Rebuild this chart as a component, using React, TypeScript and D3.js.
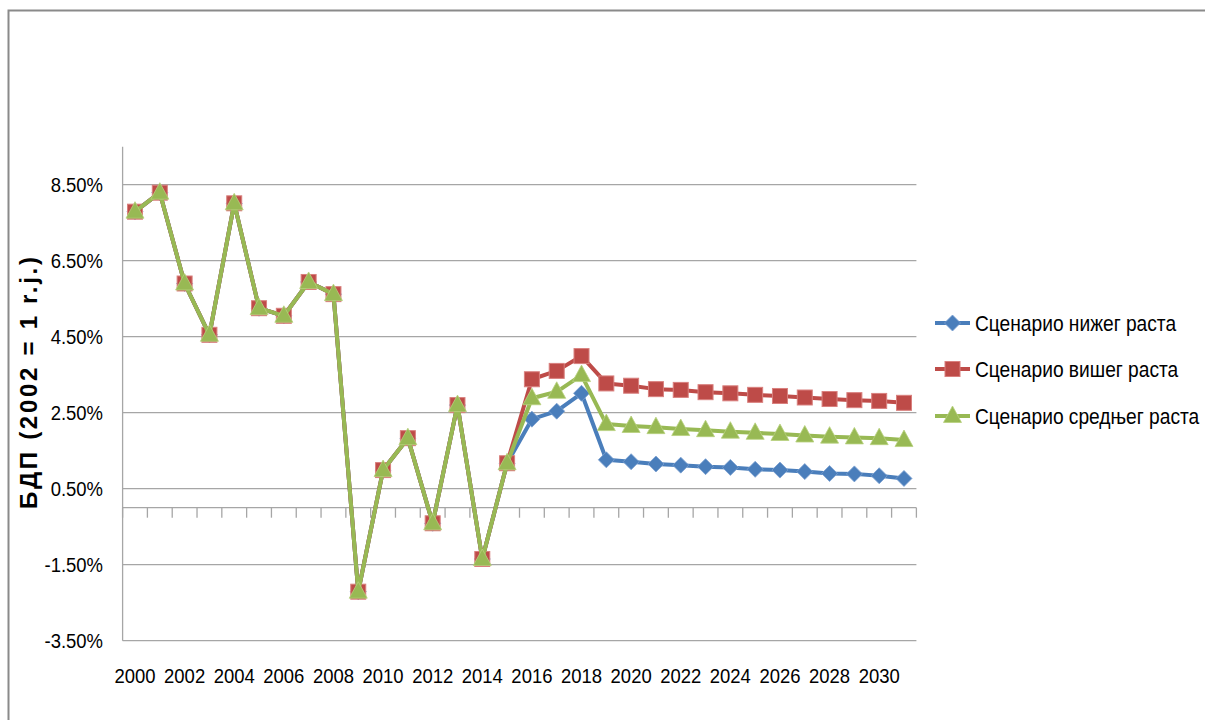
import * as d3 from 'd3';
import type { ReactNode } from 'react';

const years = d3.range(2000, 2032).map(String);

// shared history 2000-2015
const history = [7.79, 8.29, 5.9, 4.55, 8.01, 5.25, 5.05, 5.94, 5.62, -2.21, 0.99, 1.83, -0.41, 2.7, -1.35, 1.17];

const lowGrowth = [2.33, 2.54, 3.01, 1.26, 1.21, 1.15, 1.12, 1.08, 1.06, 1.01, 0.99, 0.95, 0.9, 0.89, 0.84, 0.77];
const highGrowth = [3.38, 3.6, 3.99, 3.27, 3.21, 3.12, 3.1, 3.04, 3.01, 2.97, 2.94, 2.9, 2.86, 2.83, 2.81, 2.76];
const midGrowth = [2.88, 3.05, 3.49, 2.2, 2.15, 2.12, 2.07, 2.04, 2.0, 1.97, 1.94, 1.9, 1.87, 1.85, 1.83, 1.78];

const yTicks = [-3.5, -1.5, 0.5, 2.5, 4.5, 6.5, 8.5];

const seriesNames = ['Сценарио нижег раста', 'Сценарио вишег раста', 'Сценарио средњег раста'];
const seriesColors = ['#4A7EBB', '#BE4B48', '#98B954'];

const FONT = '"Liberation Sans", Arial, sans-serif';

const x = d3.scaleBand<string>().domain(years).range([122.6, 916.4]).padding(0);
const y = d3.scaleLinear().domain([-3.5, 9.5]).range([640.7, 146.7]);
const cx = (yr: string) => (x(yr) as number) + x.bandwidth() / 2;

const pct = d3.formatLocale({ decimal: '.', thousands: ',', grouping: [3], currency: ['', ''], minus: '-' }).format('.2f');

const series = [lowGrowth, highGrowth, midGrowth].map((tail, i) => ({
  name: seriesNames[i],
  color: seriesColors[i],
  marker: ['diamond', 'square', 'triangle'][i],
  values: history.concat(tail).map((v, j) => ({ year: years[j], value: v }))
}));

const line = d3
  .line<{ year: string; value: number }>()
  .x(d => cx(d.year))
  .y(d => y(d.value));

// narrow-ish text (Calibri look) by squeezing a regular sans horizontally
function NText({ x: tx, y: ty, anchor = 'start', size, children }: { x: number; y: number; anchor?: string; size: number; children: ReactNode }) {
  return (
    <text
      transform={`translate(${tx},${ty}) scale(0.88,1)`}
      textAnchor={anchor}
      fontFamily={FONT}
      fontSize={size}
      fill="#000"
    >
      {children}
    </text>
  );
}

function Marker({ kind, color, px, py }: { kind: string; color: string; px: number; py: number }) {
  if (kind === 'square') {
    return <rect x={px - 7.5} y={py - 7.5} width={15} height={15} fill={color} stroke="#D9807E" strokeWidth={1} />;
  }
  if (kind === 'diamond') {
    const s = 8;
    return (
      <path
        d={`M${px},${py - s}L${px + s},${py}L${px},${py + s}L${px - s},${py}Z`}
        fill={color}
        stroke="#7BA0D0"
        strokeWidth={0.8}
      />
    );
  }
  return (
    <path
      d={`M${px},${py - 10}L${px + 9},${py + 6.5}L${px - 9},${py + 6.5}Z`}
      fill={color}
      stroke="#B8D07E"
      strokeWidth={0.8}
    />
  );
}

export default function App() {
  const [x0, x1] = x.range();
  const zeroY = y(0);
  const boundaries = d3.range(years.length + 1).map(k => x0 + k * x.bandwidth());
  const legendY = [323, 369, 416];

  return (
    <svg width={1205} height={720} style={{ position: 'absolute', left: 0, top: 0, background: '#fff' }}>
      {/* outer frame */}
      <path d="M8.5,720V10.5H1205" fill="none" stroke="#8A8A8A" strokeWidth={2} />

      {/* gridlines */}
      {yTicks.map(t => (
        <line key={t} x1={x0} x2={x1} y1={y(t)} y2={y(t)} stroke="#A6A6A6" strokeWidth={1.3} />
      ))}
      <line x1={x0} x2={x0} y1={y(9.5)} y2={y(-3.5)} stroke="#A6A6A6" strokeWidth={1.3} />

      {/* category axis at zero */}
      <line x1={x0} x2={x1} y1={zeroY} y2={zeroY} stroke="#A6A6A6" strokeWidth={1.3} />
      {boundaries.map((bx, k) => (
        <line key={k} x1={bx} x2={bx} y1={zeroY} y2={zeroY + 10} stroke="#A6A6A6" strokeWidth={1.3} />
      ))}

      {/* y tick labels */}
      {yTicks.map(t => (
        <NText key={t} x={103} y={y(t) + 7.5} anchor="end" size={21}>
          {pct(t) + '%'}
        </NText>
      ))}

      {/* x labels */}
      {years.map((yr, i) =>
        i % 2 === 0 ? (
          <NText key={yr} x={cx(yr)} y={683} anchor="middle" size={21}>
            {yr}
          </NText>
        ) : null
      )}

      {/* y title */}
      <text
        transform={`translate(37,383) rotate(-90)`}
        textAnchor="middle"
        fontFamily={FONT}
        fontSize={24}
        fontWeight="bold"
        textLength={252}
        lengthAdjust="spacing"
        fill="#000"
      >
        БДП (2002 = 1 r.j.)
      </text>

      {/* series */}
      {series.map(s => (
        <g key={s.name}>
          <path d={line(s.values) || ''} fill="none" stroke={s.color} strokeWidth={4} strokeLinejoin="round" />
          {s.values.map(d => (
            <Marker key={d.year} kind={s.marker} color={s.color} px={cx(d.year)} py={y(d.value)} />
          ))}
        </g>
      ))}

      {/* legend */}
      {series.map((s, i) => (
        <g key={s.name}>
          <line x1={935} x2={970} y1={legendY[i]} y2={legendY[i]} stroke={s.color} strokeWidth={4} />
          <Marker kind={s.marker} color={s.color} px={952.5} py={legendY[i]} />
          <NText x={975} y={legendY[i] + 7.5} size={21.8}>
            {s.name}
          </NText>
        </g>
      ))}
    </svg>
  );
}
